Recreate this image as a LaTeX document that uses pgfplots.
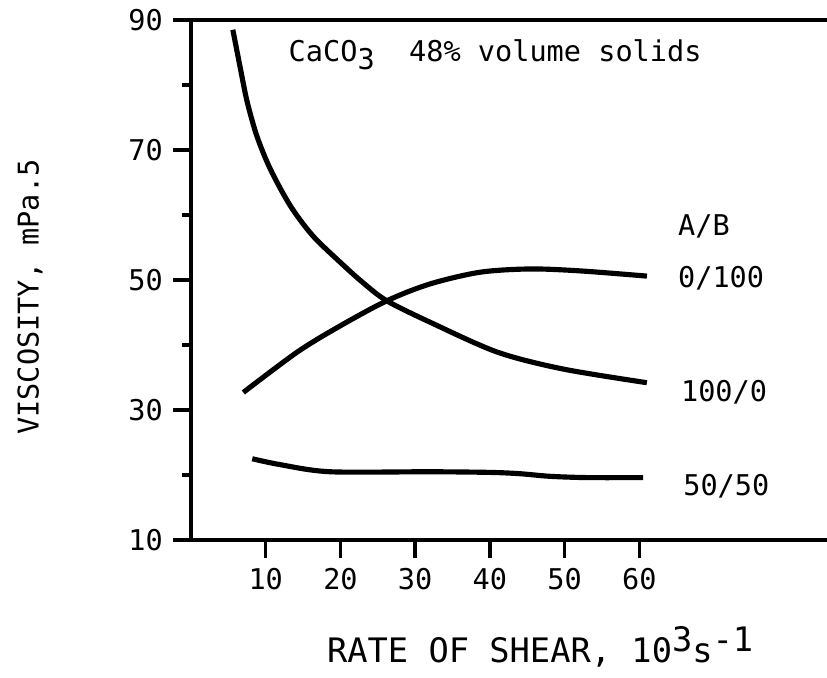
\documentclass[border=0pt]{standalone}
\usepackage{pgfplots}
\pgfplotsset{compat=1.18}
\usepackage{fontspec}
\setmainfont{DejaVu Sans Mono}

\begin{document}
\begin{tikzpicture}
\begin{axis}[
  scale only axis,
  width=222.6pt, height=182pt,
  xmin=0, xmax=85.1, ymin=10, ymax=90,
  axis x line*=bottom, axis y line*=left,
  axis line style={line width=1.4pt},
  xtick={10,20,...,60}, ytick={10,30,...,90},
  minor ytick={20,40,60,80},
  tick align=outside,
  major tick length=6.3pt, minor tick length=3pt,
  every tick/.style={black, line width=1.2pt},
  tick label style={font=\fontsize{10}{12}\selectfont},
  /pgf/number format/assume math mode=true,
  xlabel={RATE OF SHEAR, 10\raisebox{0.6ex}{3}s\raisebox{0.6ex}{-1}},
  xlabel style={at={(axis description cs:0.549,-0.206)}, anchor=center,
    font=\fontsize{11.8}{14}\selectfont},
  ylabel={VISCOSITY, mPa.5},
  ylabel style={at={(axis description cs:-0.253,0.467)}, anchor=center, rotate=0},
  clip=false,
]
% 100/0
\addplot[black, line width=1.8pt, smooth, tension=0.5] coordinates {
  (5.6,88.5) (6.6,82.6) (7.5,77.5) (8.8,72.2) (10.6,67.1) (13.3,61.4)
  (16.3,56.8) (19.9,52.8) (23.0,49.6) (26.2,46.8) (32.0,43.5) (41.0,38.9) (49.8,36.3) (61.0,34.2)
};
% 0/100
\addplot[black, line width=1.8pt, smooth, tension=0.5] coordinates {
  (7.0,32.7) (14.2,38.9) (19.9,42.9) (26.2,46.8) (32.0,49.4) (38.7,51.2)
  (45.4,51.7) (52.1,51.4) (61.0,50.6)
};
% 50/50
\addplot[black, line width=1.8pt, smooth, tension=0.5] coordinates {
  (8.2,22.5) (11.9,21.6) (18.6,20.5) (32.0,20.5) (40.0,20.4) (44.0,20.2)
  (48.0,19.8) (53.0,19.6) (60.5,19.6)
};
\draw[line width=1.4pt] (axis description cs:0,1) -- (axis description cs:1,1);
\node[anchor=west, inner sep=0] at (axis cs:13,84.6)
  {CaCO\raisebox{-0.5ex}{3}\ \ 48\% volume solids};
\node[anchor=west, inner sep=0] at (axis cs:65.1,58.3) {A/B};
\node[anchor=west, inner sep=0] at (axis cs:65.1,50.2) {0/100};
\node[anchor=west, inner sep=0] at (axis cs:65.5,32.7) {100/0};
\node[anchor=west, inner sep=0] at (axis cs:65.8,18.2) {50/50};
\coordinate (bl) at (axis description cs:-0.3003,-0.2635);
\coordinate (tr) at (axis description cs:1,1.0385);
\end{axis}
\pgfresetboundingbox
\path (bl) rectangle (tr);
\end{tikzpicture}
\end{document}
